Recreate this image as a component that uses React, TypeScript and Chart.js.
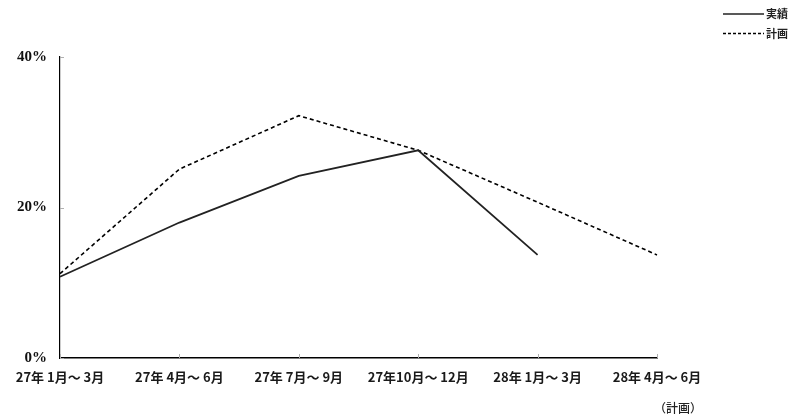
import React, { useEffect, useRef } from "react";
import { Chart, registerables } from "chart.js";

Chart.register(...registerables);

const categories = [
  "27年 1月～ 3月",
  "27年 4月～ 6月",
  "27年 7月～ 9月",
  "27年10月～ 12月",
  "28年 1月～ 3月",
  "28年 4月～ 6月",
];
const actualLabel = "実績";
const planLabel = "計画";
const actualValues: (number | null)[] = [10.8, 18.0, 24.2, 27.6, 13.7, null];
const planValues: number[] = [11.2, 25.1, 32.2, 27.6, 20.7, 13.7];
const yTicks = [0, 20, 40];
const planNote = "（計画）";

const JP = '"Noto Sans CJK JP", "Noto Sans", sans-serif';

const extrasPlugin = {
  id: "extras",
  afterDraw(chart: any) {
    const ctx = chart.ctx as CanvasRenderingContext2D;
    const x = chart.scales.x;
    const y = chart.scales.y;
    const area = chart.chartArea;
    ctx.save();
    // inward tick marks
    ctx.strokeStyle = "#b0b0b0";
    ctx.lineWidth = 1;
    for (let i = 0; i < x.ticks.length; i++) {
      const px = Math.round(x.getPixelForTick(i)) + 0.5;
      ctx.beginPath();
      ctx.moveTo(px, area.bottom - 4);
      ctx.lineTo(px, area.bottom);
      ctx.stroke();
    }
    for (let i = 0; i < y.ticks.length; i++) {
      const py = Math.round(y.getPixelForTick(i)) + 0.5;
      ctx.beginPath();
      ctx.moveTo(area.left, py);
      ctx.lineTo(area.left + 4, py);
      ctx.stroke();
    }
    // note under the last category
    const lastX = x.getPixelForTick(x.ticks.length - 1);
    ctx.fillStyle = "#222";
    ctx.font = `500 12px ${JP}`;
    ctx.textAlign = "center";
    ctx.textBaseline = "middle";
    ctx.fillText(planNote, lastX + 21, 408);

    // legend (top-right)
    const items = chart.data.datasets.map((ds: any) => ({
      label: ds.label,
      color: ds.borderColor,
      dash: ds.borderDash || [],
    }));
    ctx.font = `bold 11px ${JP}`;
    ctx.textAlign = "left";
    items.forEach((it: any, i: number) => {
      const ly = 14 + i * 19.5;
      ctx.strokeStyle = it.color;
      ctx.lineWidth = 1.4;
      ctx.setLineDash(it.dash.length ? [3, 2] : []);
      ctx.beginPath();
      ctx.moveTo(723, ly);
      ctx.lineTo(764, ly);
      ctx.stroke();
      ctx.setLineDash([]);
      ctx.fillStyle = "#222";
      ctx.fillText(it.label, 766, ly);
    });
    ctx.restore();
  },
};

export default function App() {
  const ref = useRef<HTMLCanvasElement | null>(null);
  useEffect(() => {
    document.body.style.margin = "0";
    if (!ref.current) return;
    const chart = new Chart(ref.current, {
      type: "line",
      data: {
        labels: categories,
        datasets: [
          {
            label: actualLabel,
            data: actualValues,
            borderColor: "#222",
            borderWidth: 1.8,
            pointRadius: 0,
            tension: 0,
            spanGaps: false,
          },
          {
            label: planLabel,
            data: planValues,
            borderColor: "#000",
            borderWidth: 1.6,
            borderDash: [4, 3],
            pointRadius: 0,
            tension: 0,
          },
        ],
      },
      options: {
        animation: false,
        responsive: true,
        maintainAspectRatio: false,
        layout: { padding: { top: 57, right: 139, left: 0, bottom: 0 } },
        plugins: {
          legend: { display: false },
          tooltip: { enabled: false },
        },
        scales: {
          x: {
            offset: false,
            grid: { display: false, drawTicks: false },
            border: { display: true, color: "#000", width: 1.5 },
            ticks: {
              color: "#1a1a1a",
              font: { family: JP, size: 13, weight: "bold" },
              padding: 11,
              maxRotation: 0,
              autoSkip: false,
            },
            afterFit(scale: any) {
              scale.height = 59;
            },
          },
          y: {
            min: 0,
            max: 40,
            afterBuildTicks(scale: any) {
              scale.ticks = yTicks.map((v) => ({ value: v }));
            },
            grid: { display: false, drawTicks: false },
            border: { display: true, color: "#000", width: 1.2 },
            ticks: {
              color: "#111",
              font: { family: '"Liberation Serif", "DejaVu Serif", serif', size: 15, weight: "bold" },
              padding: 13,
              callback: (v: any) => `${v}%`,
            },
            afterFit(scale: any) {
              scale.width = 60;
            },
          },
        },
      },
      plugins: [extrasPlugin],
    });
    return () => chart.destroy();
  }, []);
  return (
    <div style={{ width: 796, height: 417, position: "relative" }}>
      <canvas ref={ref} />
    </div>
  );
}
